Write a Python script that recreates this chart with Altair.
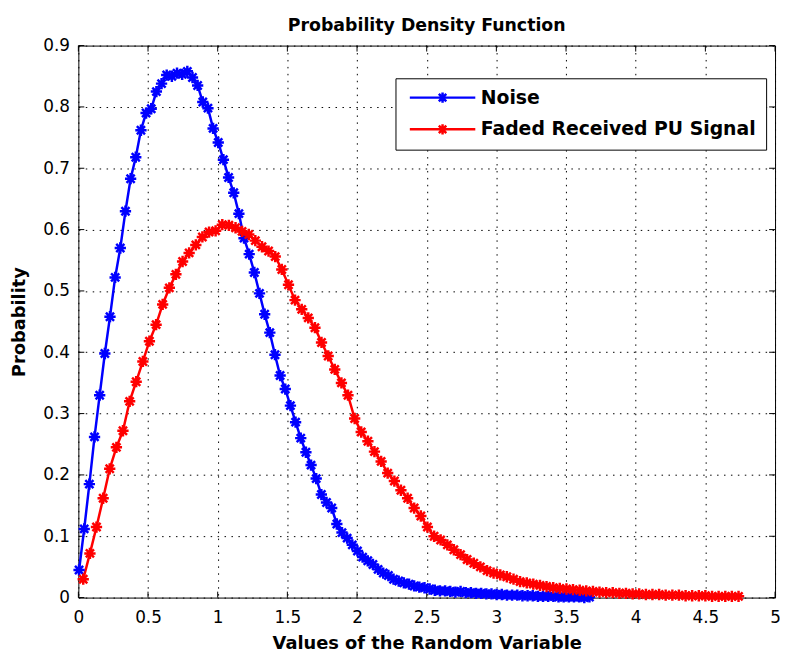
import altair as alt
import pandas as pd

# ---- data ----
noise_x = [0.005, 0.042, 0.079, 0.116, 0.153, 0.190, 0.227, 0.264, 0.301, 0.338,
           0.375, 0.412, 0.449, 0.486, 0.523, 0.560, 0.597, 0.634, 0.671, 0.708,
           0.745, 0.782, 0.819, 0.856, 0.893, 0.930, 0.967, 1.004, 1.041, 1.078,
           1.115, 1.152, 1.189, 1.226, 1.263, 1.300, 1.337, 1.374, 1.411, 1.448,
           1.485, 1.522, 1.559, 1.596, 1.633, 1.670, 1.707, 1.744, 1.781, 1.818,
           1.855, 1.892, 1.929, 1.966, 2.003, 2.040, 2.077, 2.114, 2.151, 2.188,
           2.225, 2.262, 2.299, 2.336, 2.373, 2.410, 2.447, 2.484, 2.521, 2.558,
           2.595, 2.632, 2.669, 2.706, 2.743, 2.780, 2.817, 2.854, 2.891, 2.928,
           2.965, 3.002, 3.039, 3.076, 3.113, 3.150, 3.187, 3.224, 3.261, 3.298,
           3.335, 3.372, 3.409, 3.446, 3.483, 3.520, 3.557, 3.594, 3.631, 3.668]
noise_y = [0.045, 0.112, 0.185, 0.262, 0.330, 0.398, 0.458, 0.522, 0.570, 0.630,
           0.683, 0.718, 0.762, 0.790, 0.797, 0.825, 0.838, 0.852, 0.850, 0.855,
           0.853, 0.858, 0.848, 0.835, 0.808, 0.798, 0.765, 0.742, 0.714, 0.685,
           0.660, 0.626, 0.586, 0.560, 0.530, 0.496, 0.462, 0.432, 0.396, 0.362,
           0.340, 0.313, 0.286, 0.260, 0.237, 0.216, 0.194, 0.168, 0.155, 0.146,
           0.120, 0.106, 0.097, 0.086, 0.076, 0.066, 0.060, 0.054, 0.046, 0.040,
           0.036, 0.030, 0.027, 0.024, 0.022, 0.019, 0.017, 0.016, 0.014, 0.012,
           0.011, 0.011, 0.010, 0.009, 0.010, 0.008, 0.008, 0.007, 0.007, 0.006,
           0.006, 0.005, 0.005, 0.004, 0.004, 0.004, 0.003, 0.003, 0.003, 0.002,
           0.002, 0.002, 0.002, 0.001, 0.001, 0.001, 0.001, 0.001, 0.000, 0.001]

signal_x = [0.035, 0.083, 0.130, 0.178, 0.225, 0.273, 0.320, 0.368, 0.415, 0.463,
            0.510, 0.558, 0.605, 0.653, 0.700, 0.748, 0.795, 0.843, 0.890, 0.938,
            0.985, 1.033, 1.080, 1.128, 1.175, 1.223, 1.270, 1.318, 1.365, 1.413,
            1.460, 1.508, 1.555, 1.603, 1.650, 1.698, 1.745, 1.793, 1.840, 1.888,
            1.935, 1.983, 2.030, 2.078, 2.125, 2.173, 2.220, 2.268, 2.315, 2.363,
            2.410, 2.458, 2.505, 2.553, 2.600, 2.648, 2.695, 2.743, 2.790, 2.838,
            2.885, 2.933, 2.980, 3.028, 3.075, 3.123, 3.170, 3.218, 3.265, 3.313,
            3.360, 3.408, 3.455, 3.503, 3.550, 3.598, 3.645, 3.693, 3.740, 3.788,
            3.835, 3.883, 3.930, 3.978, 4.025, 4.073, 4.120, 4.168, 4.215, 4.263,
            4.310, 4.358, 4.405, 4.453, 4.500, 4.548, 4.595, 4.643, 4.690, 4.738]
signal_y = [0.030, 0.072, 0.115, 0.162, 0.210, 0.245, 0.272, 0.320, 0.352, 0.385,
            0.418, 0.445, 0.478, 0.505, 0.527, 0.548, 0.562, 0.575, 0.588, 0.596,
            0.598, 0.608, 0.607, 0.603, 0.597, 0.592, 0.582, 0.572, 0.565, 0.556,
            0.535, 0.510, 0.485, 0.470, 0.456, 0.440, 0.416, 0.394, 0.372, 0.350,
            0.330, 0.292, 0.270, 0.255, 0.238, 0.222, 0.203, 0.190, 0.175, 0.162,
            0.146, 0.133, 0.115, 0.100, 0.094, 0.086, 0.078, 0.070, 0.062, 0.056,
            0.050, 0.044, 0.040, 0.037, 0.034, 0.030, 0.026, 0.024, 0.022, 0.020,
            0.018, 0.016, 0.015, 0.014, 0.013, 0.012, 0.011, 0.010, 0.009, 0.008,
            0.008, 0.007, 0.007, 0.006, 0.006, 0.005, 0.005, 0.005, 0.004, 0.004,
            0.004, 0.003, 0.003, 0.003, 0.003, 0.002, 0.002, 0.002, 0.002, 0.002]

series_names = ["Noise", "Faded Received PU Signal"]
series_colors = ["#0000FF", "#FF0000"]
x_ticks = [0, 0.5, 1, 1.5, 2, 2.5, 3, 3.5, 4, 4.5, 5]
y_ticks = [0, 0.1, 0.2, 0.3, 0.4, 0.5, 0.6, 0.7, 0.8, 0.9]
chart_title = ["Probability Density Function"]

df = pd.concat([
    pd.DataFrame({"x": noise_x, "y": noise_y, "series": series_names[0]}),
    pd.DataFrame({"x": signal_x, "y": signal_y, "series": series_names[1]}),
], ignore_index=True)

W, H = 703, 557
FONT = "DejaVu Sans"
STAR = "M0,-1L0,1M-1,0L1,0M-0.72,-0.72L0.72,0.72M-0.72,0.72L0.72,-0.72"
LEG_SYM = "M-6.3,0L6.3,0" + STAR

xscale = alt.Scale(domain=[0, 5], nice=False, zero=False)
yscale = alt.Scale(domain=[0, 0.9], nice=False, zero=False)
cscale = alt.Scale(domain=series_names, range=series_colors)

xaxis = alt.Axis(values=x_ticks, format="~g", grid=True, ticks=False, domain=False,
                 labelFont=FONT, labelFontSize=17, labelColor="#000", labelPadding=12,
                 title="Values of the Random Variable", titleFont=FONT,
                 titleFontSize=18, titleFontWeight="bold", titleColor="#000",
                 titlePadding=9, labelFlush=False)
yaxis = alt.Axis(values=y_ticks, format="~g", grid=True, ticks=False, domain=False,
                 labelFont=FONT, labelFontSize=17, labelColor="#000", labelPadding=9,
                 title="Probability", titleFont=FONT, titleFontSize=18,
                 titleFontWeight="bold", titleColor="#000", titlePadding=14,
                 labelFlush=False)

legend = alt.Legend(title=None, orient="none", legendX=320, legendY=33,
                    symbolType=LEG_SYM, symbolSize=110, symbolStrokeWidth=2.5,
                    symbolFillColor="transparent", symbolOffset=28, labelOffset=29,
                    labelFont=FONT, labelFontSize=19, labelFontWeight="bold",
                    labelColor="#000", labelLimit=500, rowPadding=11, padding=10,
                    strokeColor="#000", fillColor="#fff", cornerRadius=0)

base = alt.Chart(df)
lines = base.mark_line(strokeWidth=2.5).encode(
    x=alt.X("x:Q", scale=xscale, axis=xaxis),
    y=alt.Y("y:Q", scale=yscale, axis=yaxis),
    color=alt.Color("series:N", scale=cscale, legend=legend, sort=series_names),
    detail="series:N",
)
points = base.mark_point(shape=STAR, size=130, filled=False, strokeWidth=2.5,
                         opacity=1).encode(
    x=alt.X("x:Q", scale=xscale),
    y=alt.Y("y:Q", scale=yscale),
    color=alt.Color("series:N", scale=cscale, legend=legend, sort=series_names),
)

xt = pd.DataFrame({"t": x_ticks})
yt = pd.DataFrame({"t": y_ticks})
tick_bot = alt.Chart(xt).mark_rule(color="#000", strokeWidth=1).encode(
    x=alt.X("t:Q", scale=xscale), y=alt.value(H), y2=alt.value(H - 6))
tick_top = alt.Chart(xt).mark_rule(color="#000", strokeWidth=1).encode(
    x=alt.X("t:Q", scale=xscale), y=alt.value(0), y2=alt.value(6))
tick_left = alt.Chart(yt).mark_rule(color="#000", strokeWidth=1).encode(
    y=alt.Y("t:Q", scale=yscale), x=alt.value(0), x2=alt.value(6))
tick_right = alt.Chart(yt).mark_rule(color="#000", strokeWidth=1).encode(
    y=alt.Y("t:Q", scale=yscale), x=alt.value(W), x2=alt.value(W - 6))

title_text = alt.Chart(pd.DataFrame({"t": chart_title})).mark_text(
    font=FONT, fontSize=17.5, fontWeight="bold", color="#000",
    align="center", baseline="alphabetic"
).encode(text="t:N", x=alt.value(W / 2), y=alt.value(-15))

chart = alt.layer(tick_bot, tick_top, tick_left, tick_right, lines, points,
                  title_text).properties(
    width=W, height=H,
    autosize=alt.AutoSizeParams(type="none"),
    padding={"left": 71, "top": 35, "right": 5, "bottom": 55},
    background="#ffffff",
).configure_view(stroke="#000", strokeWidth=1).configure_axis(
    gridColor="#000", gridDash=[1.5, 5.5], gridWidth=1, gridOpacity=1
)

chart.save("out.html", embed_options={"renderer": "svg", "actions": False})
